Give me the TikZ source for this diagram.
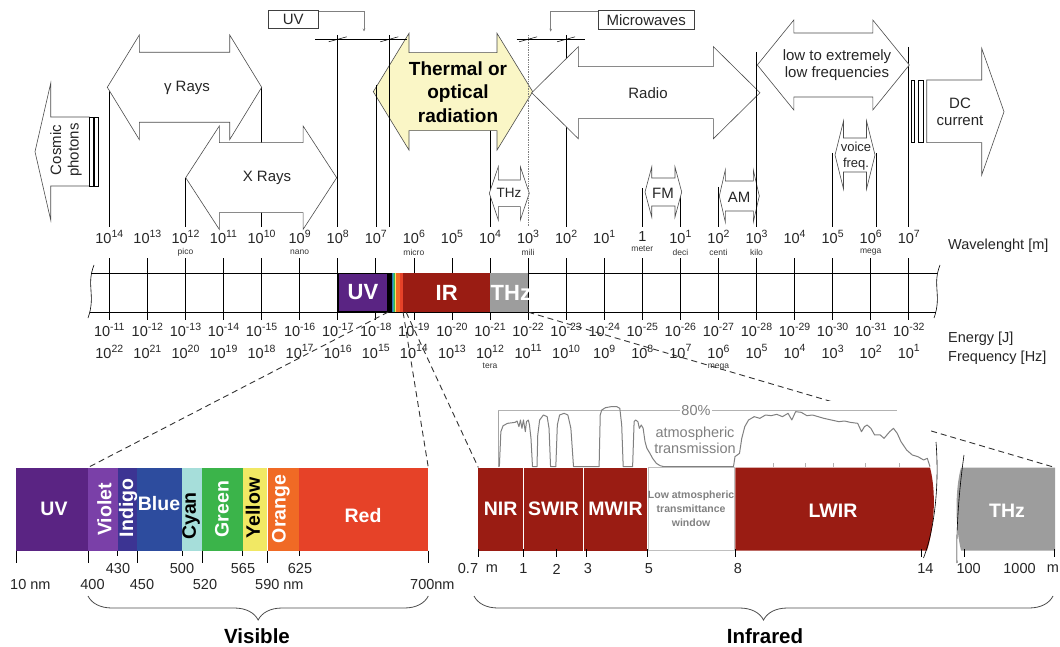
\documentclass[tikz,border=0pt]{standalone}
\usepackage{fontspec}
\setmainfont{Liberation Sans}
\usetikzlibrary{arrows.meta,decorations.pathreplacing}

\definecolor{uvpurple}{HTML}{5A2483}
\definecolor{irred}{HTML}{9A1C13}
\definecolor{thzgray}{HTML}{9D9D9D}
\definecolor{thermal}{HTML}{FAF6C6}
\definecolor{violetband}{HTML}{7A40A8}
\definecolor{indigoband}{HTML}{3C3493}
\definecolor{blueband}{HTML}{2D4C9E}
\definecolor{cyanband}{HTML}{A6DEDA}
\definecolor{greenband}{HTML}{3BB44A}
\definecolor{yellowband}{HTML}{F1E864}
\definecolor{orangeband}{HTML}{F06A25}
\definecolor{redband}{HTML}{E64228}
\definecolor{stripeblue}{HTML}{2F6FB8}
\definecolor{stripeteal}{HTML}{2DB3A0}

\newcommand{\pw}[1]{10\raisebox{0.42em}{\fontsize{10.5}{11}\selectfont #1}}
% double headed block arrow: [style]{left tip}{right tip}{y}{head length}{head half width}{shaft half width}
\newcommand{\bothways}[7][]{%
  \draw[#1] (#2,#4) -- (#2+#5,#4-#6) -- (#2+#5,#4-#7) -- (#3-#5,#4-#7) -- (#3-#5,#4-#6) -- (#3,#4)
    -- (#3-#5,#4+#6) -- (#3-#5,#4+#7) -- (#2+#5,#4+#7) -- (#2+#5,#4+#6) -- cycle;}

\begin{document}
\begin{tikzpicture}[x=1pt, y=-1pt,
  lbl/.style={font=\fontsize{14.5}{16}\selectfont, text=black!85, inner sep=0pt},
  unitname/.style={font=\fontsize{8.5}{9}\selectfont, text=black!80, inner sep=0pt},
  boxtxt/.style={font=\fontsize{15}{17.4}\selectfont, text=black!85, align=center, inner sep=0pt},
  blockarrow/.style={draw=black!70, line width=0.6pt},
  barseg/.style={minimum height=39, inner sep=0pt, text=white, font=\bfseries\fontsize{22}{22}\selectfont},
  band/.style={minimum height=83, inner sep=0pt, outer sep=0pt},
  bandtxt/.style={text=white, font=\bfseries\fontsize{19.5}{20}\selectfont, inner sep=0pt},
  zoomline/.style={dash pattern=on 6pt off 4pt, line width=0.9pt, black!80},
  bracesty/.style={decorate, decoration={brace, mirror, amplitude=24pt}, line width=0.8pt, black!70},
]
\useasboundingbox (0,0) rectangle (1060,647);

% lines from the bands down to the scale
\foreach \x/\y in {109.3/88, 185.4/178, 261.6/88, 337.7/35, 490/92, 566.1/35, 642.3/188, 680.4/188, 718.4/187, 832.6/153, 876/153, 908.8/47}
  \draw[line width=0.7pt] (\x,\y) -- (\x,227);

% cosmic photons
\draw[blockarrow, fill=white] (35,151.7) -- (50.7,83.3) -- (50.7,117) -- (89.3,117) -- (89.3,186) -- (50.7,186) -- (50.7,220) -- cycle;
\draw[line width=0.6pt] (89.3,117) rectangle (98.3,186);
\draw[line width=1.8pt] (94.3,117) -- (94.3,186);
\node[boxtxt, rotate=90] (cosmic) at (66,150) {Cosmic\\photons};

% double arrows
\bothways[blockarrow, fill=white]{107.3}{261.7}{87.3}{32}{52.3}{35}
\bothways[blockarrow, fill=white]{185.7}{336.7}{177.7}{33.6}{51.7}{35}
\bothways[blockarrow, fill=thermal]{373.3}{532.7}{91.7}{35.7}{58.4}{39}
\bothways[blockarrow, fill=white]{531.7}{760}{92.7}{46.6}{46}{26}
\bothways[blockarrow, fill=white]{757.3}{909.3}{65}{36.5}{45}{32}
\bothways[blockarrow, fill=white]{835}{875}{155}{8.5}{34}{17}
\bothways[blockarrow, fill=white]{719.3}{759.3}{196}{6}{26}{15}
\bothways[blockarrow, fill=white]{645}{681.7}{192}{6.7}{25}{14}
\bothways[blockarrow, fill=white]{489.3}{529.3}{193.3}{9}{26.7}{13.3}

% DC current
\draw[blockarrow, fill=white] (926.7,80) -- (981.7,80) -- (981.7,48.3) -- (1004,111.7) -- (981.7,175) -- (981.7,142.7) -- (926.7,142.7) -- cycle;
\draw[line width=0.6pt] (911,80) rectangle (914.3,142.7);
\draw[line width=0.6pt] (918.3,80) rectangle (923.3,142.7);

\foreach \x/\y in {376/85, 389.3/35, 756.5/52}
  \draw[line width=0.7pt] (\x,\y) -- (\x,227);
\draw[gray, densely dotted, line width=0.7pt] (528.1,35) -- (528.1,227);

% UV and microwave marks
\draw[line width=0.6pt] (315,39.3) -- (406.7,39.3);
\draw[line width=0.6pt] (516.7,39.3) -- (585,39.3);
\foreach \x in {337.7,389.3,528.1,566.1}
  \draw[line width=0.5pt] (\x-9,41.8) -- (\x+9,36.8);
\node[boxtxt, draw=black!75, line width=0.8pt, minimum width=50, minimum height=17.6] (uvbox) at (293.3,19.5) {UV};
\node[boxtxt, draw=black!75, line width=0.8pt, minimum width=95.7, minimum height=19.3] (mwbox) at (646.2,19.7) {Microwaves};
\coordinate (uvpoint) at (364,31.5);
\coordinate (mwpoint) at (550.7,31.7);
\draw[gray, line width=0.6pt, -{Stealth[length=3pt,width=2.5pt]}] ([yshift=-1pt]uvbox.north east) -| (uvpoint);
\draw[gray, line width=0.6pt, -{Stealth[length=3pt,width=2.5pt]}] ([yshift=-2pt]mwbox.north west) -| (mwpoint);

% arrow texts
\node[boxtxt] (gamma) at (187,88) {γ Rays};
\node[boxtxt] (xrays) at (267,178) {X Rays};
\node[boxtxt, font=\bfseries\fontsize{19}{23.3}\selectfont, text=black] (thermaltxt) at (458,92) {Thermal or\\optical\\radiation};
\node[boxtxt] (radio) at (648,93) {Radio};
\node[boxtxt] (lowfreq) at (837,65) {low to extremely\\low frequencies};
\node[boxtxt, font=\fontsize{13}{15.7}\selectfont] (voice) at (856,156) {voice\\freq.};
\node[boxtxt] (am) at (739,197) {AM};
\node[boxtxt] (fm) at (663,193) {FM};
\node[boxtxt, font=\fontsize{13.5}{15}\selectfont] (thzsmall) at (509,193) {THz};
\node[boxtxt] (dc) at (960,112) {DC\\current};

% scale labels
\foreach \lab [count=\i from 0] in {\pw{14},\pw{13},\pw{12},\pw{11},\pw{10},\pw{9},\pw{8},\pw{7},\pw{6},\pw{5},\pw{4},\pw{3},\pw{2},\pw{1},1,\pw{1},\pw{2},\pw{3},\pw{4},\pw{5},\pw{6},\pw{7}}
  \node[lbl] (wl\i) at ({109.3+38.07*\i},237) {\lab};
\foreach \p/\i in {pico/2, nano/5, micro/8, mili/11, deci/15, centi/16, kilo/17, mega/20}
  \node[unitname] (pre\i) at ({109.3+38.07*\i},252.5) {\p};
\node[unitname] (pre14) at ({109.3+38.07*14},248.5) {meter};
\foreach \e [count=\i from 0] in {11,...,32}
  \node[lbl] (en\i) at ({109.3+38.07*\i},330) {\pw{-\e}};
\foreach \f [count=\i from 0] in {22,21,...,1}
  \node[lbl] (fr\i) at ({109.3+38.07*\i},351.5) {\pw{\f}};
\node[unitname] (tera) at ({109.3+38.07*10},366) {tera};
\node[unitname] (mega) at ({109.3+38.07*16},367) {mega};
\node[lbl, anchor=west] (wlname) at (948,246) {Wavelenght [m]};
\node[lbl, anchor=west] (enname) at (948,339) {Energy [J]};
\node[lbl, anchor=west] (frname) at (948,357.5) {Frequency [Hz]};

% the bar
\draw[line width=0.8pt] (91,273) -- (937,273);
\draw[line width=0.8pt] (90,312) -- (936,312);
\draw[line width=0.6pt] (94,265) .. controls (86,285) and (96,296) .. (88,318);
\draw[line width=0.6pt] (940,265) .. controls (932,285) and (942,296) .. (934,318);
\foreach \i in {0,...,21}
  \draw[line width=0.7pt] ({109.3+38.07*\i},258) -- ({109.3+38.07*\i},320);
\node[barseg, fill=uvpurple, draw=black, line width=1.4pt, minimum width=49.2, minimum height=37.6] (uvbar) at (363,292.5) {UV};
\fill[black] (388,273) rectangle (391.5,312);
\fill[stripeblue] (391.5,273) rectangle (392.5,312);
\fill[stripeteal] (392.5,273) rectangle (393.5,312);
\fill[greenband] (393.5,273) rectangle (395,312);
\fill[yellowband] (395,273) rectangle (396,312);
\fill[orangeband] (396,273) rectangle (399.5,312);
\fill[redband] (399.5,273) rectangle (403.3,312);
\node[barseg, fill=irred, minimum width=86.7] (irbar) at (446.65,292.5) {IR};
\node[barseg, fill=thzgray, minimum width=38.1] (thzbar) at (509.05,292.5) {};
\begin{scope}
  \clip (thzbar.south west) rectangle (thzbar.north east);
  \node[barseg, anchor=west, minimum height=0pt] (thzbartxt) at (490.5,292.5) {THz};
\end{scope}

% visible bands
\node[band, fill=uvpurple, minimum width=72] (uvband) at (52,509) {};
\node[band, fill=violetband, minimum width=29.7] (violet) at (102.85,509) {};
\node[band, fill=indigoband, minimum width=19.6] (indigo) at (127.5,509) {};
\node[band, fill=blueband, minimum width=45] (blue) at (159.8,509) {};
\node[band, fill=cyanband, minimum width=20] (cyan) at (192.3,509) {};
\node[band, fill=greenband, minimum width=40.4] (green) at (222.5,509) {};
\node[band, fill=yellowband, minimum width=24] (yellow) at (254.7,509) {};
\node[band, fill=orangeband, minimum width=30.7] (orange) at (283.65,509) {};
\node[band, fill=redband, minimum width=129.3] (red) at (363.65,509) {};
\node[bandtxt] (uvtxt) at (54,509) {UV};
\node[bandtxt, rotate=90] (violettxt) at (104.5,509.5) {Violet};
\node[bandtxt, rotate=90] (indigotxt) at (128,508) {Indigo};
\node[bandtxt] (bluetxt) at (159,504) {Blue};
\node[bandtxt, rotate=90, text=black] (cyantxt) at (191,516) {Cyan};
\node[bandtxt, rotate=90] (greentxt) at (222,509) {Green};
\node[bandtxt, rotate=90, text=black] (yellowtxt) at (253,508) {Yellow};
\node[bandtxt, rotate=90] (orangetxt) at (281,509) {Orange};
\node[bandtxt] (redtxt) at (363,516) {Red};

\foreach \x in {16,88,137.3,202.3,267.7,428.3}
  \draw[line width=0.7pt] (\x,550.5) -- (\x,563);
\foreach \x in {117.7,182.3,242.7,299.7}
  \draw[line width=0.7pt] (\x,550.5) -- (\x,556);
\foreach \x/\lab [count=\k] in {118/430, 182/500, 243/565, 300/625}
  \node[lbl] (vup\k) at (\x,569) {\lab};
\foreach \x/\lab [count=\k] in {92.5/400, 142/450, 205/520}
  \node[lbl] (vlo\k) at (\x,585) {\lab};
\node[lbl, anchor=west] (tennm) at (10,585) {10 nm};
\node[lbl, anchor=west] (fivenm) at (255,585) {590 nm};
\node[lbl, anchor=west] (sevennm) at (410,585) {700nm};
\draw[bracesty] (88,596) -- (428.3,596);
\node[font=\bfseries\fontsize{20.5}{22}\selectfont, inner sep=0pt] (visible) at (257,636) {Visible};

% zoom lines
\coordinate (thzcorner) at (1055,467.5);
\draw[zoomline] (uvbar.south east) -- (violet.north west);
\draw[zoomline] (irbar.south west) -- (red.north east);
\draw[zoomline] ([xshift=3pt]irbar.south west) -- (478.3,467.5);
\draw[zoomline] (thzbar.south east) -- (thzcorner);

% atmospheric transmission
\fill[white] (496,401) rectangle (931,466);
\draw[gray!70, line width=0.5pt] (498,410.7) -- (498,467);
\draw[gray!60, line width=0.5pt] (498,410.7) -- (897,410.7);
\foreach \x in {773,805,833,865,899}
  \draw[gray!60] (\x,463) -- (\x,467);
\begin{scope}[shift={(470,395)}, xscale=0.3764, yscale=0.3333]
  \draw[gray, line width=1pt, line join=round] plot coordinates {(78,215) (82,110) (88,92) (100,85) (120,82) (125,78) (130,95) (134,75) (138,100) (142,75) (147,110) (150,80) (155,75) (158,90) (162,130) (166,215) (178,215) (180,120) (185,75) (195,60) (205,65) (210,100) (214,215) (228,215) (232,90) (238,60) (250,55) (260,60) (268,100) (275,215) (343,215) (346,60) (350,45) (360,38) (375,35) (390,35) (398,40) (403,90) (407,215) (432,215) (436,80) (440,75) (446,80) (450,100) (455,90) (460,100) (465,140) (470,160) (478,175) (485,190) (495,205) (505,212) (515,215) (700,215) (704,185) (710,180) (716,175) (722,130) (730,95) (740,75) (755,65) (770,70) (785,60) (800,62) (815,58) (830,65) (845,55) (855,75) (865,50) (880,52) (895,62) (910,60) (925,65) (940,70) (960,75) (980,80) (995,78) (1010,82) (1030,85) (1040,110) (1048,95) (1055,90) (1065,100) (1075,120) (1090,120) (1100,130) (1115,110) (1125,100) (1135,115) (1145,140) (1160,165) (1175,180) (1190,185) (1205,195) (1215,190) (1222,215)};
\end{scope}
\node[lbl, text=gray, fill=white, inner sep=1pt] (eighty) at (696,410.7) {80\%};
\node[lbl, text=gray, align=center] (atmo) at (695,440.5) {atmospheric\\transmission};

% infrared bands
\node[band, bandtxt, fill=irred, minimum width=44.7] (nir) at (500.65,509) {NIR};
\node[band, bandtxt, fill=irred, minimum width=59] (swir) at (553.5,509) {SWIR};
\node[band, bandtxt, fill=irred, minimum width=63] (mwir) at (615.5,509) {MWIR};
\node[band, draw=gray!50, line width=0.4pt, text=gray, align=center, font=\bfseries\fontsize{10.5}{14}\selectfont] (window) at (691.15,509) {Low atmospheric\\transmittance\\window};
\fill[irred] (735.3,467.5) -- (930,467.5) .. controls (936,490) and (935,525) .. (927,550.5) -- (735.3,550.5) -- cycle;
\node[bandtxt] (lwir) at (833,511) {LWIR};
\fill[thzgray] (961,467.5) -- (1055,467.5) -- (1055,550.5) -- (961,550.5) .. controls (955,525) and (955,490) .. (961,467.5) -- cycle;
\node[bandtxt] (thz) at (1007,511) {THz};
\draw[line width=0.6pt] (936,442) .. controls (939,480) and (936,525) .. (923.5,558);
\draw[line width=0.6pt] (964,455) .. controls (959,490) and (956,530) .. (957,563);

\foreach \x in {478.3,523.8,556.6,586,647,735.3,921,964,1054.5}
  \draw[line width=0.7pt] (\x,549) -- (\x,557);
\foreach \x/\lab [count=\k] in {468/0.7, 492/m, 523.4/1, 556.6/2, 587.8/3, 648.8/5, 738/8, 925.4/14, 968.7/100, 1019.5/1000, 1053/m}
  \node[lbl] (irlab\k) at (\x,569) {\lab};
\draw[bracesty] (474,596) -- (1053,596);
\node[font=\bfseries\fontsize{20.5}{22}\selectfont, inner sep=0pt] (infrared) at (765,636) {Infrared};
\end{tikzpicture}
\end{document}
